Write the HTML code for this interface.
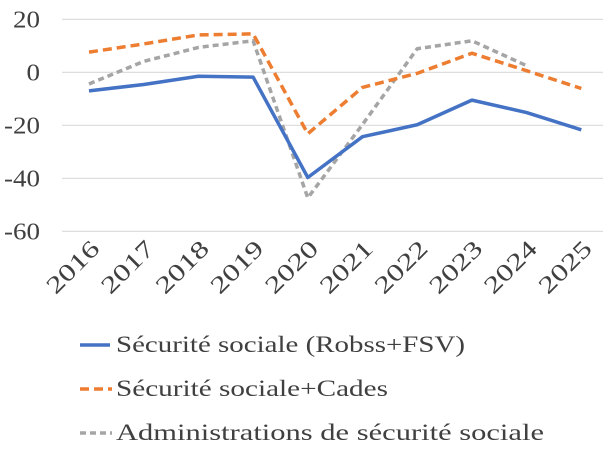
<!DOCTYPE html>
<html><head><meta charset="utf-8"><style>
body{margin:0;background:#fff;width:603px;height:451px;overflow:hidden}
text{font-family:"Liberation Serif",serif;fill:#404040}
</style></head><body>
<svg width="603" height="451">
<g id="grid"></g><g id="ylab"></g><g id="xlab"></g><g id="series"></g>
<g>
 <g><line x1="80" y1="345" x2="110" y2="345" stroke="#4472C4" stroke-width="3.5"/><text x="116" y="352" font-size="23" textLength="349" lengthAdjust="spacingAndGlyphs">Sécurité sociale (Robss+FSV)</text></g>
 <g><line x1="80" y1="389" x2="112" y2="389" stroke="#ED7D31" stroke-width="3.5" stroke-dasharray="9,5"/><text x="116" y="396" font-size="23" textLength="272" lengthAdjust="spacingAndGlyphs">Sécurité sociale+Cades</text></g>
 <g><line x1="80" y1="433" x2="112" y2="433" stroke="#A5A5A5" stroke-width="3.5" stroke-dasharray="6,4"/><text x="116" y="440" font-size="23" textLength="428" lengthAdjust="spacingAndGlyphs">Administrations de sécurité sociale</text></g>
</g>
</svg>
<script>
const years=["2016","2017","2018","2019","2020","2021","2022","2023","2024","2025"];
const robss=[-7.0,-4.6,-1.5,-1.8,-39.7,-24.3,-19.8,-10.5,-15.2,-21.7];
const cades=[7.6,10.7,14.1,14.5,-23.2,-5.7,-0.4,7.2,0.6,-6.1];
const asso=[-4.4,4.1,9.4,11.9,-47.4,-19.7,8.9,11.9,2.5,null];
const yTicks=[20,0,-20,-40,-60];
const NS="http://www.w3.org/2000/svg";
const x=i=>89+i*54.7;
const y=v=>72.3-v*2.65;
function mk(t,a,p){const e=document.createElementNS(NS,t);for(const k in a)e.setAttribute(k,a[k]);p.appendChild(e);return e;}
const grid=document.getElementById('grid'),yl=document.getElementById('ylab'),xl=document.getElementById('xlab'),ser=document.getElementById('series');
yTicks.forEach(v=>{
 const l=mk('line',{x1:62,x2:603,y1:y(v),y2:y(v),stroke:'#d9d9d9','stroke-width':1.2},grid);
 
 
 const s=String(v);
 const w=(s.replace('-','').length*13.5)+(v<0?9:0);
 const t=mk('text',{x:40-w,y:y(v)+8,'font-size':24,textLength:w,lengthAdjust:'spacingAndGlyphs'},yl);
 t.textContent=s;
 
 
});
years.forEach((yr,i)=>{
 const t=mk('text',{x:-64,y:0,'font-size':24,textLength:64,lengthAdjust:'spacingAndGlyphs',transform:`translate(${x(i)+12},${250}) rotate(-45)`},xl);
 t.textContent=yr;
 
 
});
function line(vals,col,dash,name){
 const pts=vals.map((v,i)=>v==null?null:x(i)+','+y(v)).filter(p=>p);
 const p=mk('polyline',{points:pts.join(' '),fill:'none',stroke:col,'stroke-width':3.5,'stroke-linejoin':'round'},ser);
 if(dash)p.setAttribute('stroke-dasharray',dash);
 
 
}
line(asso,'#A5A5A5','6,4','series-asso');
line(cades,'#ED7D31','9,5','series-cades');
line(robss,'#4472C4',null,'series-robss');
</script>
</body></html>
